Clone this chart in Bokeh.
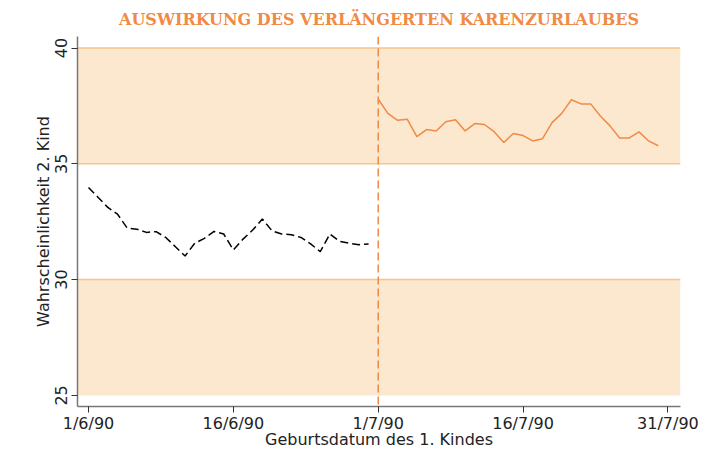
from bokeh.plotting import figure
from bokeh.models import Range1d, FixedTicker, BoxAnnotation, Span
from bokeh.embed import file_html
from bokeh.resources import INLINE

# days since 1 June 1990
days_before = list(range(0, 30))
prob_before = [33.98, 33.55, 33.12, 32.83, 32.23, 32.18, 32.04, 32.07, 31.82, 31.42,
               31.02, 31.57, 31.78, 32.08, 31.97, 31.28, 31.75, 32.14, 32.62, 32.11,
               31.97, 31.94, 31.82, 31.54, 31.21, 31.97, 31.65, 31.57, 31.51, 31.54]
days_after = list(range(30, 60))
prob_after = [37.79, 37.18, 36.88, 36.93, 36.18, 36.48, 36.42, 36.82, 36.90, 36.42,
              36.74, 36.70, 36.39, 35.92, 36.31, 36.22, 35.99, 36.08, 36.78, 37.18,
              37.77, 37.59, 37.59, 37.07, 36.64, 36.12, 36.12, 36.38, 35.99, 35.78]
x_ticks = [0, 15, 30, 45, 60]
x_tick_labels = ["1/6/90", "16/6/90", "1/7/90", "16/7/90", "31/7/90"]
y_ticks = [25, 30, 35, 40]
cutoff_day = 30
bands = [(25, 30), (35, 40)]
band_lines = [30, 35, 40]

ORANGE = "#f08a45"
PEACH = "#fce8cf"
BANDLINE = "#f8c488"
SANS = "DejaVu Sans"

p = figure(width=724, height=451, output_backend="svg", toolbar_location=None,
           x_range=Range1d(-1.14, 61.3), y_range=Range1d(24.52, 40.5),
           min_border_left=77, min_border_right=44, min_border_top=36, min_border_bottom=45)

p.title.text = "AUSWIRKUNG DES VERLÄNGERTEN KARENZURLAUBES"
p.title.text_font = "DejaVu Serif"
p.title.text_font_size = "16px"
p.title.text_font_style = "bold"
p.title.text_color = ORANGE
p.title.align = "center"
p.title.standoff = 15

p.outline_line_color = None
p.xgrid.visible = False
p.ygrid.visible = False

for b, t in bands:
    p.add_layout(BoxAnnotation(bottom=b, top=t, fill_color=PEACH, fill_alpha=1.0, line_color=None, level="underlay"))
for yv in band_lines:
    p.add_layout(Span(location=yv, dimension="width", line_color=BANDLINE, line_width=1.5, level="underlay"))

p.add_layout(Span(location=cutoff_day, dimension="height", line_color=ORANGE, line_width=1.5, line_dash="8 4"))

p.line(days_before, prob_before, line_color="black", line_width=1.5, line_dash="8 4")
p.line(days_after, prob_after, line_color=ORANGE, line_width=1.5)

p.xaxis.ticker = FixedTicker(ticks=x_ticks)
p.xaxis.major_label_overrides = {t: l for t, l in zip(x_ticks, x_tick_labels)}
p.yaxis.ticker = FixedTicker(ticks=y_ticks)
p.yaxis.major_label_orientation = "vertical"

for ax in (p.xaxis, p.yaxis):
    ax.axis_line_color = "#777777"
    ax.axis_line_width = 1.5
    ax.major_tick_line_color = "#333333"
    ax.major_tick_line_width = 1
    ax.major_tick_out = 6
    ax.major_tick_in = 0
    ax.minor_tick_line_color = None
    ax.major_label_text_font = SANS
    ax.major_label_text_font_size = "16px"
    ax.major_label_text_color = "#222222"
    ax.axis_label_text_font = SANS
    ax.axis_label_text_font_size = "16px"
    ax.axis_label_text_font_style = "normal"
    ax.axis_label_text_color = "#222222"

p.xaxis.major_label_standoff = 1
p.xaxis.axis_label_standoff = -6
p.yaxis.major_label_standoff = 4
p.yaxis.axis_label_standoff = 0

p.xaxis.axis_label = "Geburtsdatum des 1. Kindes"
p.yaxis.axis_label = "Wahrscheinlichkeit 2. Kind"

open("out.html", "w").write(file_html(p, INLINE))
